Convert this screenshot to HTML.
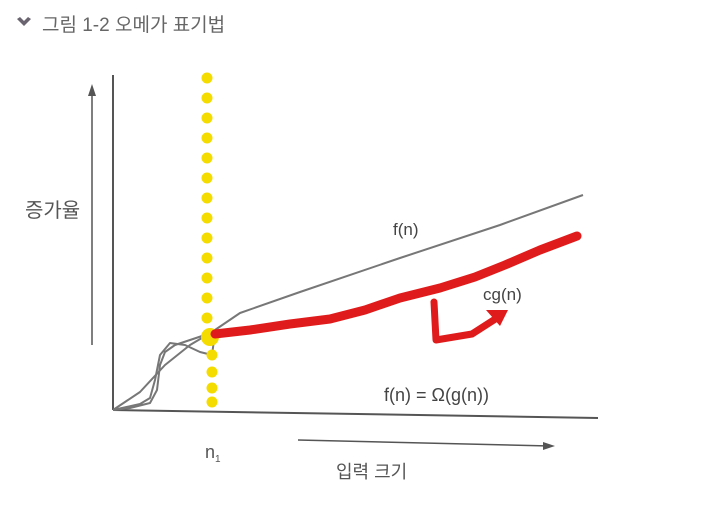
<!DOCTYPE html>
<html><head><meta charset="utf-8"><style>
body{margin:0;background:#fff;}
svg{display:block;font-family:"Liberation Sans","Noto Sans CJK KR",sans-serif;}
</style></head><body>
<svg width="704" height="508" viewBox="0 0 704 508">
<g>
<path d="M17 19 L24 26 L31 19 L28 17 L24 21 L20 17 Z" fill="#6a6470"/>
<text x="42" y="31" font-size="19" fill="#666">그림 1-2  오메가 표기법</text>
</g>
<line x1="113" y1="75" x2="113" y2="410" stroke="#555" stroke-width="2"/>
<line x1="113" y1="410" x2="598" y2="418" stroke="#555" stroke-width="2"/>
<g><line x1="92" y1="345" x2="92" y2="88" stroke="#555" stroke-width="1.5"/><path d="M88 96 L92 84 L96 96 Z" fill="#555"/></g>
<g><line x1="298" y1="440" x2="550" y2="446" stroke="#555" stroke-width="1.5"/><path d="M543 442 L555 446 L543 450 Z" fill="#555"/></g>
<text x="25" y="217" font-size="20" fill="#555">증가율</text>
<text x="336" y="478" font-size="18" fill="#555">입력 크기</text>
<text x="205" y="458" font-size="18" fill="#555">n<tspan font-size="10" dy="4">1</tspan></text>
<path id="fn" fill="none" stroke="#777" stroke-width="2" stroke-linejoin="round"/>
<path id="gn" fill="none" stroke="#777" stroke-width="2" stroke-linejoin="round"/>
<text x="393" y="235" font-size="17" fill="#444">f(n)</text>
<text x="483" y="300" font-size="17" fill="#444">cg(n)</text>
<text x="384" y="401" font-size="18" fill="#444">f(n) = Ω(g(n))</text>
<g id="dots"></g>
<path id="red" fill="none" stroke="#e01b1b" stroke-width="9" stroke-linecap="round" stroke-linejoin="round"/>
<g>
<path d="M434 302 L436 340 L472 334 L500 316" fill="none" stroke="#e01b1b" stroke-width="7" stroke-linecap="round" stroke-linejoin="round"/>
<path d="M486 310 L508 310 L500 326 Z" fill="#e01b1b"/>
</g>
</svg>
<script>
const fnX=[113,140,165,190,212,240,300,400,500,583];
const fnY=[410,392,365,345,332,313,292,258,225,195];
const gnX=[113,140,150,155,160,170,185,200,212,214,205,190,175,165,160,157,150,130,113];
const gnY=[410,404,398,380,355,343,345,352,355,340,335,340,345,352,365,390,403,408,410];
const redX=[215,250,290,330,365,400,440,475,505,540,577];
const redY=[334,330,324,319,310,298,288,277,265,250,236];
const dotY=[78,98,118,138,158,178,198,218,238,258,278,298,318,355,372,388,402];
function pts(xs,ys){return xs.map((x,i)=>(i?'L':'M')+x+' '+ys[i]).join(' ');}
document.getElementById('fn').setAttribute('d',pts(fnX,fnY));
document.getElementById('gn').setAttribute('d',pts(gnX,gnY));
document.getElementById('red').setAttribute('d',pts(redX,redY));
const g=document.getElementById('dots');
dotY.forEach(y=>{const c=document.createElementNS('http://www.w3.org/2000/svg','circle');


c.setAttribute('cx',y>340?212:207);c.setAttribute('cy',y);c.setAttribute('r',5.5);c.setAttribute('fill','#f5dc00');g.appendChild(c);});
const big=document.createElementNS('http://www.w3.org/2000/svg','circle');


big.setAttribute('cx',210);big.setAttribute('cy',337);big.setAttribute('r',9);big.setAttribute('fill','#f5dc00');g.appendChild(big);
</script>
</body></html>
